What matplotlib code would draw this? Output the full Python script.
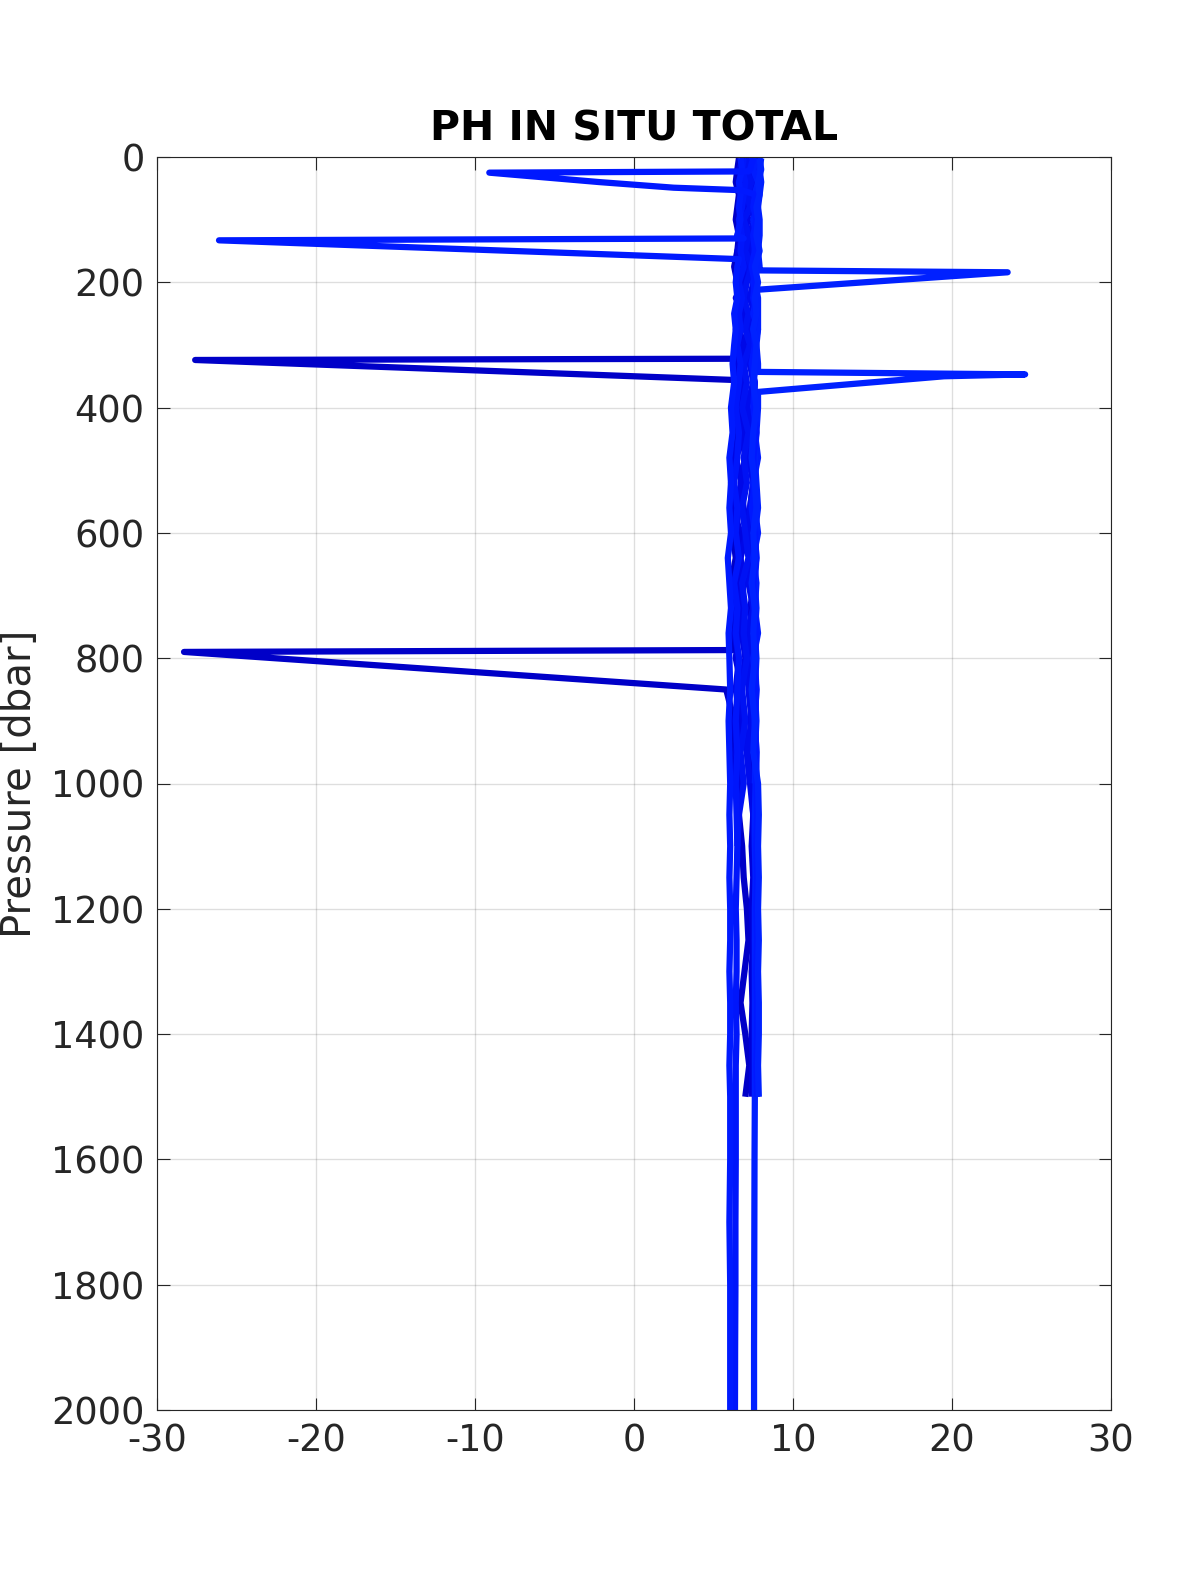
import matplotlib
matplotlib.use("Agg")
import matplotlib.pyplot as plt
import numpy as np

plt.rcParams['font.family'] = ['DejaVu Sans']
plt.rcParams['axes.unicode_minus'] = False

# ---------------- data ----------------
pres_grid = [2, 20, 40, 60, 80, 100, 125, 150, 175, 200, 225, 250, 275, 300, 330, 360,
             400, 440, 480, 520, 560, 600, 640, 680, 720, 760, 800, 850, 900, 950, 1000,
             1050, 1100, 1150, 1200, 1250, 1300, 1350, 1400, 1450, 1500]
pres_deep = [1600, 1700, 1800, 1900, 2000]

ph_p0 = [6.6, 6.5, 6.4, 6.6, 6.5, 6.4, 6.6, 6.5, 6.3, 6.5, 6.6, 6.4, 6.5, 6.4, 6.5, 6.4,
         6.2, 6.4, 6.3, 6.1, 6.3, 6.2, 6.4, 6.1, 6.3, 6.2, 6.0, 6.1, 6.3, 6.2, 6.5, 6.6,
         6.8, 6.9, 7.1, 7.2, 6.95, 6.7, 7.0, 7.25, 7.0]
ph_p1 = [7.6, 7.7, 7.5, 7.6, 7.7, 7.5, 7.6, 7.4, 7.6, 7.5, 7.7, 7.4, 7.6, 7.5, 7.3, 7.6,
         7.5, 7.4, 7.6, 7.5, 7.3, 7.5, 7.4, 7.6, 7.3, 7.5, 7.4, 7.5, 7.3, 7.5, 7.4, 7.5,
         7.4, 7.5, 7.4, 7.5, 7.4, 7.45, 7.4, 7.45, 7.4]
ph_p2 = [7.0, 7.2, 6.8, 7.1, 6.9, 7.2, 6.8, 7.0, 7.3, 6.9, 7.1, 6.8, 7.2, 6.9, 7.0, 6.7,
         7.1, 6.8, 7.0, 6.7, 6.9, 7.1, 6.7, 6.9, 6.6, 6.8, 7.0, 6.7, 6.9, 7.1, 7.3, 7.5,
         7.6, 7.6, 7.65, 7.6, 7.7, 7.65, 7.7, 7.65, 7.7]
ph_p3 = [6.7, 6.8, 6.6, 6.7, 6.6, 6.7, 6.5, 6.6, 6.5, 6.4, 6.5, 6.3, 6.4, 6.3, 6.2, 6.3,
         6.1, 6.2, 6.0, 6.1, 6.0, 6.1, 5.9, 6.0, 6.1, 5.95, 6.0, 6.05, 5.95, 6.0, 6.05, 6.0,
         6.05, 6.0, 6.05, 6.05, 6.0, 6.05, 6.05, 6.0, 6.05]
ph_p3_deep = [6.05, 6.0, 6.05, 6.05, 6.05]
ph_p4 = [8.0, 7.9, 8.0, 7.9, 7.8, 7.9, 7.9, 7.8, 7.9, 7.7, 7.8, 7.8, 7.8, 7.7, 7.8, 7.7,
         7.8, 7.7, 7.6, 7.7, 7.8, 7.6, 7.7, 7.6, 7.7, 7.6, 7.7, 7.6, 7.7, 7.6, 7.65, 7.6,
         7.6, 7.65, 7.6, 7.6, 7.6, 7.6, 7.6, 7.6, 7.6]
ph_p4_deep = [7.58, 7.57, 7.56, 7.55, 7.55]
ph_p5 = [7.5, 7.3, 7.4, 7.6, 7.5, 7.7, 7.5, 7.6, 7.4, 7.6, 7.5, 7.7, 7.5, 7.6, 7.4, 7.6,
         7.5, 7.7, 7.5, 7.6, 7.4, 7.6, 7.7, 7.5, 7.6, 7.7, 7.6, 7.7, 7.6, 7.7, 7.7, 7.75,
         7.7, 7.75, 7.7, 7.75, 7.7, 7.75, 7.75, 7.7, 7.75]
ph_p6 = [6.9, 6.8, 7.0, 6.9, 6.8, 6.6, 6.8, 6.7, 6.9, 6.6, 6.8, 6.6, 6.7, 6.5, 6.7, 6.6,
         6.4, 6.6, 6.5, 6.3, 6.5, 6.4, 6.6, 6.3, 6.5, 6.4, 6.6, 6.5, 6.4, 6.5, 6.4, 6.45,
         6.5, 6.45, 6.4, 6.45, 6.45, 6.4, 6.45, 6.4, 6.4]
ph_p6_deep = [6.4, 6.38, 6.38, 6.36, 6.35]
ph_p7 = [7.9, 8.0, 7.8, 7.9, 7.7, 7.8, 7.7, 7.9, 7.6, 7.8, 7.6, 7.7, 7.5, 7.7, 7.6, 7.5,
         7.7, 7.5, 7.4, 7.6, 7.7, 7.5, 7.6, 7.4, 7.6, 7.5, 7.6, 7.4, 7.6, 7.5, 7.8, 7.85,
         7.8, 7.85, 7.8, 7.85, 7.8, 7.85, 7.85, 7.8, 7.85]
ph_p8 = [6.8, 7.1, 6.7, 7.2, 6.6, 7.0, 6.5, 7.1, 6.6, 6.9, 6.4, 7.0, 6.6, 6.9, 6.3, 6.8,
         6.5, 7.0, 6.4, 6.8, 6.2, 6.7, 6.5, 6.9, 6.3, 6.6, 6.4, 6.8, 6.3, 6.5, 6.3]
ph_p9 = [7.3, 7.0, 7.4, 7.1, 7.3, 6.9, 7.2, 7.0, 7.4, 7.1, 6.9, 7.2, 7.0, 7.3, 6.9, 7.1,
         6.8, 7.2, 6.9, 7.1, 6.8, 7.0, 7.2, 6.8, 7.0, 6.9, 7.1, 6.8, 7.0, 6.7, 6.9, 6.6, 6.5]
ph_p10 = [7.4, 7.6, 7.2, 7.5, 7.3, 7.6, 7.2, 7.4, 7.1, 7.5, 7.3, 7.6, 7.2, 7.4, 7.3, 7.5,
          7.1, 7.4, 7.2, 7.5, 7.3, 7.1, 7.4, 7.2, 7.5, 7.1, 7.3, 7.2, 7.4, 7.1, 7.3]
ph_p11 = [6.9, 6.6, 7.0, 6.7, 7.1, 6.6, 6.9, 6.5, 6.8, 7.0, 6.6, 6.9, 6.4, 6.8, 6.6, 6.9,
          6.5, 6.7, 6.3, 6.8, 6.6, 6.4, 6.7, 6.5, 6.8, 6.3, 6.6, 6.4, 6.7, 6.4, 6.6, 6.5]
ph_p12 = [7.7, 7.5, 7.8, 7.6, 7.8, 7.5, 7.7, 7.6, 7.8, 7.5, 7.7, 7.5, 7.8, 7.6, 7.7, 7.5,
          7.7, 7.6, 7.8, 7.5, 7.6, 7.8, 7.5, 7.7, 7.6, 7.8, 7.5, 7.7, 7.6, 7.7, 7.6]

# spikes (pressure, pH)
spike1_p = [23, 25, 40, 49, 53];  spike1_v = [7.2, -9.1, -2.2, 2.5, 6.8]
spike2_p = [130, 133, 163];       spike2_v = [6.9, -26.1, 6.6]
spike3_p = [181, 184, 212];       spike3_v = [7.8, 23.5, 7.7]
spike4_p = [322, 324, 356];       spike4_v = [6.5, -27.6, 6.4]
spike5_p = [343, 347, 350, 375];  spike5_v = [7.8, 24.6, 19.5, 7.8]
spike6_p = [787, 790, 850];       spike6_v = [6.2, -28.3, 5.8]


def build(vals, deep=None, spikes=()):
    p = list(pres_grid[:len(vals)])
    v = list(vals)
    if deep is not None:
        p += pres_deep
        v += deep
    for sp, sv in spikes:
        keep = [(pp, vv) for pp, vv in zip(p, v) if not (sp[0] <= pp <= sp[-1])]
        keep += list(zip(sp, sv))
        keep.sort(key=lambda t: t[0])
        p = [t[0] for t in keep]
        v = [t[1] for t in keep]
    return v, p


profiles = [
    build(ph_p0, spikes=[(spike4_p, spike4_v), (spike6_p, spike6_v)]),
    build(ph_p1),
    build(ph_p8),
    build(ph_p11),
    build(ph_p2),
    build(ph_p10),
    build(ph_p9),
    build(ph_p6, ph_p6_deep),
    build(ph_p12),
    build(ph_p3, ph_p3_deep, spikes=[(spike2_p, spike2_v)]),
    build(ph_p4, ph_p4_deep, spikes=[(spike3_p, spike3_v), (spike5_p, spike5_v)]),
    build(ph_p5, spikes=[(spike1_p, spike1_v)]),
    build(ph_p7),
]
prof_colors = ['#0000c8', '#0000d9', '#0004e0', '#0006e4', '#0008e8', '#000cee',
               '#0012f4', '#0016fb', '#001cff', '#001aff', '#0020ff', '#0018ff', '#0022ff']

# ---------------- figure ----------------
fig = plt.figure(figsize=(12, 15.75), dpi=100)
ax = fig.add_axes([157/1200, 165/1575, 954/1200, 1253/1575])

for (v, p), c in zip(profiles, prof_colors):
    ax.plot(v, p, color=c, lw=4.5, solid_capstyle='butt', solid_joinstyle='round')

ax.set_xlim(-30, 30)
ax.set_ylim(2000, 0)
ax.set_xticks(np.arange(-30, 31, 10))
ax.set_yticks(np.arange(0, 2001, 200))
ax.grid(True, color='#262626', alpha=0.15, lw=1.0)
ax.set_axisbelow(True)
ax.tick_params(direction='in', length=9, width=0.8, top=True, right=True,
               labelsize=26.5, labelcolor='#262626', color='#262626', pad=9)
for s in ax.spines.values():
    s.set_color('#262626')
    s.set_linewidth(0.8)

ax.set_title('PH IN SITU TOTAL', fontsize=29.5, fontweight='bold', pad=12)
ax.set_ylabel('Pressure [dbar]', fontsize=29, color='#262626')
ax.yaxis.set_label_coords(-0.123, 0.5)

fig.savefig('out.png', dpi=100)
